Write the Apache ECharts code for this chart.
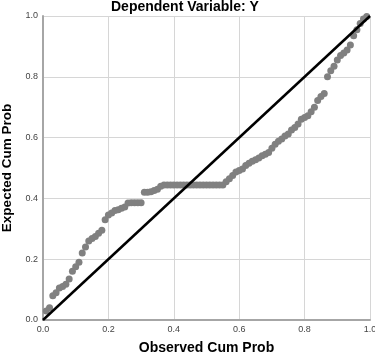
<!DOCTYPE html>
<html>
<head>
<meta charset="utf-8">
<script src="https://cdn.jsdelivr.net/npm/echarts@6/dist/echarts.min.js"></script>
<style>html,body{margin:0;padding:0;background:#fff}#c{width:375px;height:359px}</style>
</head>
<body>
<div id="c"></div>
<script>
const titleText = 'Dependent Variable: Y';
const xName = 'Observed Cum Prob';
const yName = 'Expected Cum Prob';
const tickValues = [0, 0.2, 0.4, 0.6, 0.8, 1.0];

const observed = [0.01,0.02,0.03,0.04,0.05,0.06,0.07,0.08,0.09,0.10,
0.11,0.12,0.13,0.14,0.15,0.16,0.17,0.18,0.19,0.20,
0.21,0.22,0.23,0.24,0.25,0.26,0.27,0.28,0.29,0.30,
0.31,0.32,0.33,0.34,0.35,0.36,0.37,0.38,0.39,0.40,
0.41,0.42,0.43,0.44,0.45,0.46,0.47,0.48,0.49,0.50,
0.51,0.52,0.53,0.54,0.55,0.56,0.57,0.58,0.59,0.60,
0.61,0.62,0.63,0.64,0.65,0.66,0.67,0.68,0.69,0.70,
0.71,0.72,0.73,0.74,0.75,0.76,0.77,0.78,0.79,0.80,
0.81,0.82,0.83,0.84,0.85,0.86,0.87,0.88,0.89,0.90,
0.91,0.92,0.93,0.94,0.95,0.96,0.97,0.98,0.99];
const expected = [0.03,0.04,0.08,0.09,0.105,0.11,0.118,0.135,0.16,0.175,
0.19,0.22,0.24,0.26,0.268,0.275,0.285,0.295,0.33,0.345,
0.352,0.36,0.363,0.368,0.372,0.385,0.386,0.386,0.386,0.386,
0.42,0.42,0.422,0.426,0.43,0.44,0.444,0.444,0.444,0.444,
0.444,0.444,0.444,0.444,0.444,0.444,0.444,0.444,0.444,0.444,
0.444,0.444,0.444,0.444,0.444,0.455,0.465,0.475,0.487,0.492,
0.497,0.508,0.516,0.522,0.527,0.533,0.54,0.545,0.551,0.565,
0.578,0.588,0.595,0.605,0.612,0.625,0.633,0.645,0.66,0.666,
0.672,0.685,0.70,0.722,0.735,0.745,0.80,0.82,0.835,0.855,
0.87,0.878,0.888,0.905,0.935,0.955,0.975,0.99,0.998];
const refLine = [[0,0],[1,1]];

const font = '"Liberation Sans", Arial, sans-serif';
const chart = echarts.init(document.getElementById('c'), null, {renderer:'canvas'});
const axisCommon = {
  min: 0, max: 1, interval: 0.2,
  axisLine: {show: true, lineStyle: {color: '#a6a6a6', width: 2}},
  axisTick: {show: false},
  splitLine: {show: true, lineStyle: {color: '#d6d6d6', width: 1}},
  axisLabel: {fontSize: 9, color: '#444', fontFamily: font, formatter: v => v.toFixed(1)},
  nameLocation: 'middle',
  nameTextStyle: {fontSize: 14, fontWeight: 'bold', color: '#000', fontFamily: font}
};
chart.setOption({
  animation: false,
  title: {text: titleText, left: 106, top: -5,
    textStyle: {fontSize: 14, fontWeight: 'bold', color: '#000', fontFamily: font}},
  grid: {left: 43, right: 5, top: 16, bottom: 39, containLabel: false, outerBoundsMode: 'none'},
  xAxis: Object.assign({}, axisCommon, {type: 'value', name: xName, nameGap: 21,
    axisLabel: Object.assign({}, axisCommon.axisLabel, {margin: 5})}),
  yAxis: Object.assign({}, axisCommon, {type: 'value', name: yName, nameGap: 27,
    nameTextStyle: Object.assign({}, axisCommon.nameTextStyle, {fontSize: 13.5}),
    axisLabel: Object.assign({}, axisCommon.axisLabel, {margin: 5})}),
  series: [
    {type: 'scatter', data: observed.map((x, i) => [x, expected[i]]),
     symbolSize: 7, itemStyle: {color: '#808080', opacity: 1}, z: 2},
    {type: 'line', data: refLine, showSymbol: false, symbol: 'none',
     lineStyle: {color: '#000', width: 2.5}, z: 3, silent: true}
  ]
});
</script>
</body>
</html>
